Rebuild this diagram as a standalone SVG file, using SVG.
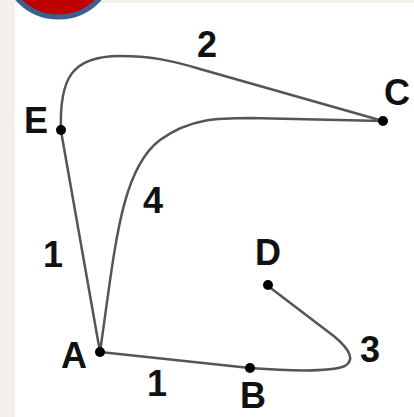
<svg xmlns="http://www.w3.org/2000/svg" width="414" height="417" viewBox="0 0 414 417">
<style>
.edge{fill:none;stroke:#555;stroke-width:2.5;stroke-linecap:round;stroke-linejoin:round}
.dot{fill:#000}
.lbl{font-family:"Liberation Sans",Arial,sans-serif;font-weight:bold;font-size:36px;fill:#111;text-anchor:middle}
</style>
<rect x="0" y="0" width="414" height="417" fill="#f3efe9"/>
<rect x="15" y="3" width="399" height="414" fill="#ffffff"/>
<circle cx="58.5" cy="-38" r="55" fill="#c00000" stroke="#3b5f8e" stroke-width="5"/>
<g id="connectors">
<path class="edge" d="M100,352 L61,131 C59,78 72,56 120,56 C150,56 170,60 200,69 L383,121"/>
<path class="edge" d="M100,352 C115,250 120,170 160,140 C190,118 220,118 250,118 L383,121"/>
<path class="edge" d="M100,352 L250,368 C290,371 330,372 345,366 C355,360 350,350 335,337 L268,286"/>
</g>
<g id="A"><circle class="dot" cx="100" cy="352" r="5"/><text class="lbl" x="74" y="368">A</text></g>
<g id="B"><circle class="dot" cx="250" cy="368" r="5"/><text class="lbl" x="253" y="408">B</text></g>
<g id="C"><circle class="dot" cx="383" cy="121" r="5"/><text class="lbl" x="397" y="105">C</text></g>
<g id="D"><circle class="dot" cx="268" cy="285" r="5"/><text class="lbl" x="268" y="265">D</text></g>
<g id="E"><circle class="dot" cx="61" cy="130" r="5"/><text class="lbl" x="36" y="133">E</text></g>
<g id="labels">
<text class="lbl" x="207" y="57">2</text>
<text class="lbl" x="153" y="213">4</text>
<text class="lbl" x="53" y="267">1</text>
<text class="lbl" x="157" y="396">1</text>
<text class="lbl" x="370" y="362">3</text>
</g>
</svg>
